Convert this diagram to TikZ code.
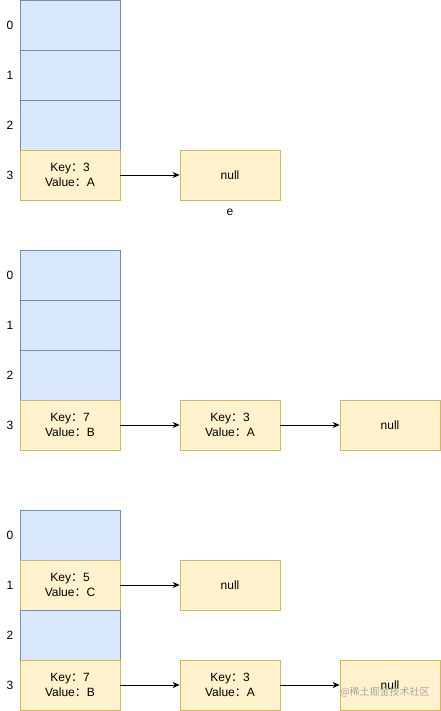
\documentclass[tikz,border=0pt]{standalone}
\usepackage{fontspec}
\setmainfont{Liberation Sans}
\newfontfamily\cjk{Noto Sans CJK SC}
\usepackage{xcolor}
\usetikzlibrary{positioning,arrows.meta}
\definecolor{slotfill}{HTML}{DAE8FC}
\definecolor{slotline}{HTML}{6C8EBF}
\definecolor{entryfill}{HTML}{FFF2CC}
\definecolor{entryline}{HTML}{D6B656}
\newcommand{\kv}[2]{Key{\cjk ：}#1\\Value{\cjk ：}#2}

\begin{document}
\begin{tikzpicture}[
    x=1pt, y=-1pt,
    >={Stealth[length=7pt,width=6pt]},
    line width=0.75pt,
    every node/.style={font=\fontsize{12}{15}\selectfont, inner sep=0pt},
    slot/.style={draw=slotline, fill=slotfill, minimum width=100pt, minimum height=50pt},
    entry/.style={draw=entryline, fill=entryfill, minimum width=100pt, minimum height=50pt, align=center}
]
  \useasboundingbox (0,0) rectangle (441,711);

  % first table
  \node[slot]  (a0) at (70,25)  {};
  \node[slot]  (a1) at (70,75)  {};
  \node[slot]  (a2) at (70,125) {};
  \node[entry] (a3) at (70,175) {\kv{3}{A}};
  \node[entry] (a3n) at (230,175) {null};
  \node (e) at (230,212) {e};
  \foreach \i in {0,...,3}
    \node (la\i) at (10,{25+50*\i}) {\i};

  % second table
  \node[slot]  (b0) at (70,275) {};
  \node[slot]  (b1) at (70,325) {};
  \node[slot]  (b2) at (70,375) {};
  \node[entry] (b3) at (70,425) {\kv{7}{B}};
  \node[entry] (b3a) at (230,425) {\kv{3}{A}};
  \node[entry] (b3n) at (390,425) {null};
  \foreach \i in {0,...,3}
    \node (lb\i) at (10,{275+50*\i}) {\i};

  % third table
  \node[slot]  (c0) at (70,535) {};
  \node[entry] (c1) at (70,585) {\kv{5}{C}};
  \node[slot]  (c2) at (70,635) {};
  \node[entry] (c3) at (70,685) {\kv{7}{B}};
  \node[entry] (c1n) at (230,585) {null};
  \node[entry] (c3a) at (230,685) {\kv{3}{A}};
  \node[entry] (c3n) at (390,685) {null};
  \foreach \i in {0,...,3}
    \node (lc\i) at (10,{535+50*\i}) {\i};

  % edges
  \draw[->] (a3) -- (a3n);
  \draw[->] (b3) -- (b3a);
  \draw[->] (b3a) -- (b3n);
  \draw[->] (c1) -- (c1n);
  \draw[->] (c3) -- (c3a);
  \draw[->] (c3a) -- (c3n);

  % watermark
  \node[text=black!35, font=\cjk\fontsize{10}{12}\selectfont] (wm) at (385,692) {@稀土掘金技术社区};
\end{tikzpicture}
\end{document}
